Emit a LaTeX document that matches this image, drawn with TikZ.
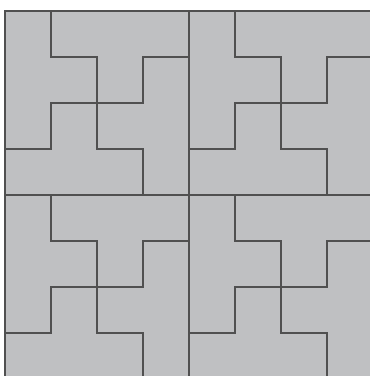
\documentclass[tikz,border=0pt]{standalone}
\definecolor{tilefill}{HTML}{BFC0C2}
\definecolor{tileline}{HTML}{505050}
\tikzset{
  edge/.style={draw=tileline, line width=1.6pt, line cap=rect},
}
\begin{document}
\begin{tikzpicture}[x=1pt,y=-1pt]
\useasboundingbox (0,0) rectangle (370,376);
\clip (0,0) rectangle (370,376);
\fill[white] (0,0) rectangle (370,376);
\foreach \ox/\oy in {5/11,189/11,5/195,189/195}{
  \begin{scope}[shift={(\ox,\oy)}, x=46pt, y=-46pt]
    \fill[tilefill] (0,0) rectangle (4,4);
    \draw[edge] (0,0) rectangle (4,4);
    \draw[edge] (1,0) -- (1,1) -- (2,1) -- (2,3) -- (3,3) -- (3,4);
    \draw[edge] (4,1) -- (3,1) -- (3,2) -- (1,2) -- (1,3) -- (0,3);
  \end{scope}
}
\end{tikzpicture}
\end{document}
